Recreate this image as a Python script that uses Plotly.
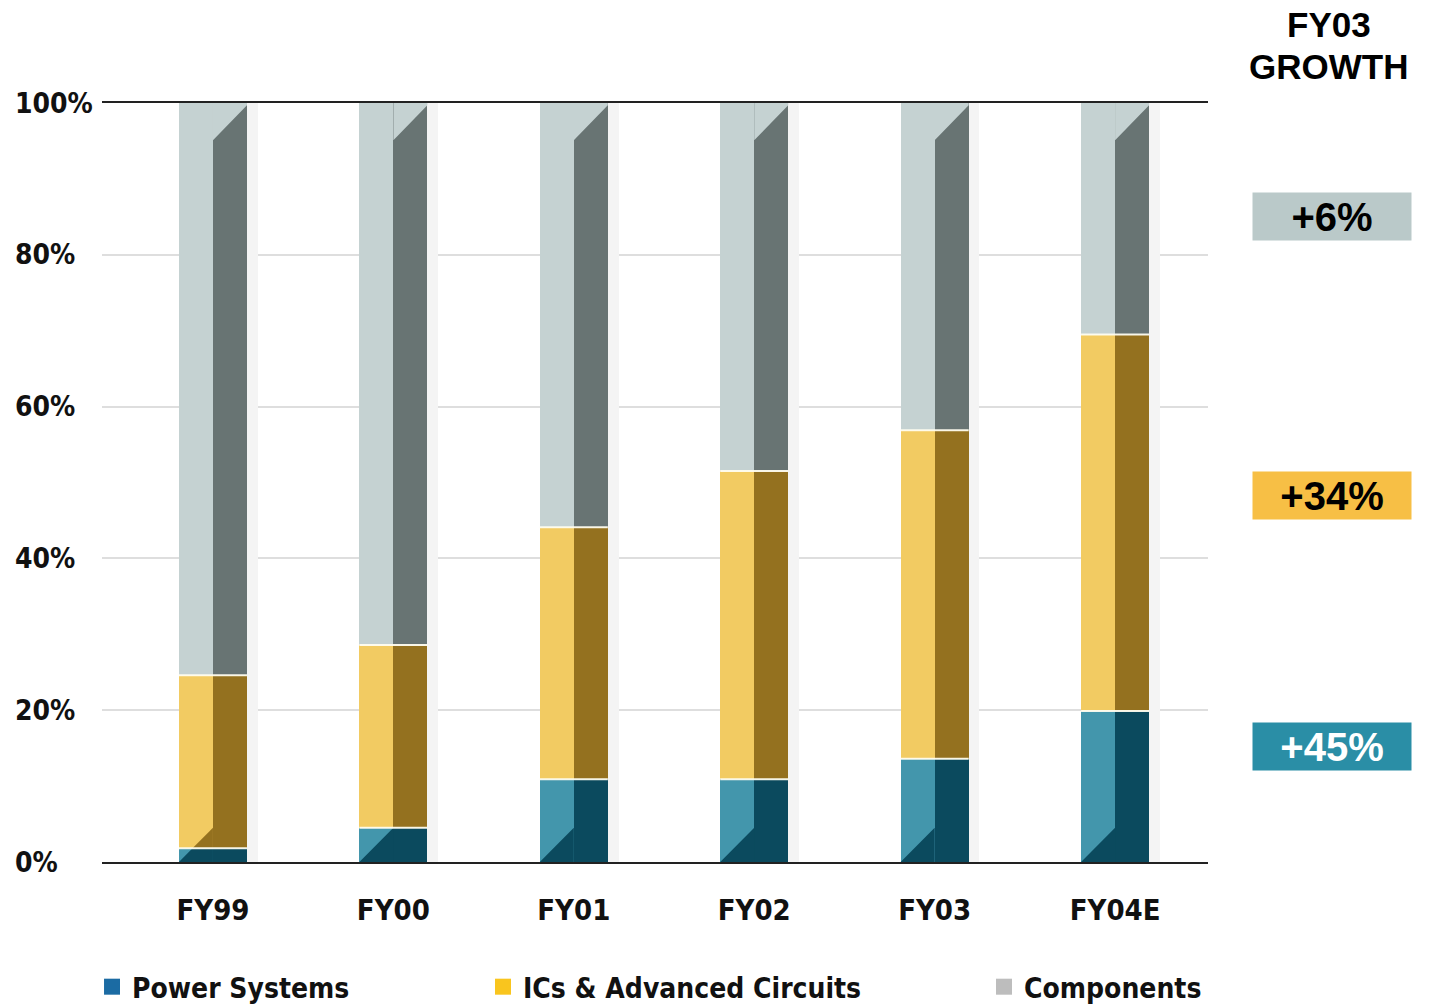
import plotly.graph_objects as go

# ---- data -------------------------------------------------------------
categories = ["FY99", "FY00", "FY01", "FY02", "FY03", "FY04E"]
power_systems = [1.8, 4.5, 10.9, 10.9, 13.6, 19.9]
ics_advanced = [22.8, 24.1, 33.2, 40.6, 43.3, 49.6]
components = [round(100 - p - i, 1) for p, i in zip(power_systems, ics_advanced)]

series_names = ["Power Systems", "ICs & Advanced Circuits", "Components"]
y_tick_vals = [0, 20, 40, 60, 80, 100]
y_tick_text = ["0%", "20%", "40%", "60%", "80%", "100%"]

growth_title = ["FY03", "GROWTH"]
growth_labels = ["+6%", "+34%", "+45%"]      # Components, ICs, Power
growth_levels = [0.8505, 0.4829, 0.1522]     # vertical placement (paper units)

# ---- styling ----------------------------------------------------------
light = {"Power Systems": "#4396AC", "ICs & Advanced Circuits": "#F2CB62", "Components": "#C5D2D2"}
dark = {"Power Systems": "#0B4A5E", "ICs & Advanced Circuits": "#94711F", "Components": "#687473"}
legend_col = {"Power Systems": "#1B6BA3", "ICs & Advanced Circuits": "#F9C51E", "Components": "#BDBDBD"}
box_col = ["#BAC9C9", "#F7BF45", "#2A8EA6"]
box_txt = ["#000000", "#000000", "#FFFFFF"]

COND = "Liberation Sans Narrow, DejaVu Sans Condensed, Arial Narrow, sans-serif"
ARIAL = "Liberation Sans, Arial, sans-serif"

W = 0.377          # bar width (x units)
HW = W / 2
SH = 0.06          # drop-shadow width
BEVEL_TOP = (95.1, 99.7)
BEVEL_BOT = 4.5

x = list(range(len(categories)))
values = {"Power Systems": power_systems,
          "ICs & Advanced Circuits": ics_advanced,
          "Components": components}

fig = go.Figure()

# soft drop shadow on the right of every column
fig.add_trace(go.Bar(x=[i + HW + SH / 2 for i in x], y=[100] * len(x), width=SH,
                     base=0, marker=dict(color="#F4F4F4", line_width=0),
                     showlegend=False, hoverinfo="skip"))

# stacked columns, each drawn as a lit left half and a shaded right half
base = [0.0] * len(x)
for name in series_names:
    vals = values[name]
    fig.add_trace(go.Bar(x=[i - HW / 2 for i in x], y=vals, base=base, width=HW,
                         marker=dict(color=light[name], line_width=0),
                         name=name, showlegend=False))
    fig.add_trace(go.Bar(x=[i + HW / 2 for i in x], y=vals, base=base, width=HW,
                         marker=dict(color=dark[name], line_width=0),
                         name=name, showlegend=False, hoverinfo="skip"))
    base = [b + v for b, v in zip(base, vals)]

# bevel at the top of each column (lit wedge over the shaded half)
tx, ty = [], []
for i in x:
    tx += [i, i + HW, i + HW, i, None]
    ty += [100, 100, BEVEL_TOP[1], BEVEL_TOP[0], None]
fig.add_trace(go.Scatter(x=tx, y=ty, mode="lines", fill="toself",
                         fillcolor=light["Components"], line_width=0,
                         showlegend=False, hoverinfo="skip"))

# bevel at the bottom of each column (shaded wedge over the lit half)
def xl(y):
    return -HW + (y / BEVEL_BOT) * HW

px_, py_, ix_, iy_ = [], [], [], []
for i, p in zip(x, power_systems):
    top = min(p, BEVEL_BOT)
    px_ += [i - HW, i, i, i + xl(top), None]
    py_ += [0, 0, top, top, None]
    if p < BEVEL_BOT:
        ix_ += [i + xl(p), i, i, None]
        iy_ += [p, p, BEVEL_BOT, None]
fig.add_trace(go.Scatter(x=px_, y=py_, mode="lines", fill="toself",
                         fillcolor=dark["Power Systems"], line_width=0,
                         showlegend=False, hoverinfo="skip"))
if ix_:
    fig.add_trace(go.Scatter(x=ix_, y=iy_, mode="lines", fill="toself",
                             fillcolor=dark["ICs & Advanced Circuits"], line_width=0,
                             showlegend=False, hoverinfo="skip"))

# thin pale seams between stacked segments
sx, sy = [], []
for i, p, c in zip(x, power_systems, ics_advanced):
    for lvl in (p, p + c):
        sx += [i - HW, i + HW, None]
        sy += [lvl, lvl, None]
fig.add_trace(go.Scatter(x=sx, y=sy, mode="lines",
                         line=dict(color="rgba(255,253,240,0.95)", width=2),
                         showlegend=False, hoverinfo="skip"))

# legend entries, each in its own legend so they can be spaced freely
legend_ids = ["legend", "legend2", "legend3"]
legend_x = [0.0644, 0.3380, 0.6886]
for name, lid in zip(series_names, legend_ids):
    fig.add_trace(go.Scatter(x=[None], y=[None], mode="markers", name=name,
                             marker=dict(symbol="square", size=17, color=legend_col[name]),
                             legend=lid))

legend_style = dict(orientation="h", xref="container", yref="container",
                    yanchor="middle", y=0.0189, xanchor="left",
                    bgcolor="rgba(0,0,0,0)", borderwidth=0,
                    font=dict(family=COND, size=28, color="#111111", weight="bold"),
                    itemwidth=30)
fig.update_layout(
    legend=dict(x=legend_x[0], **legend_style),
    legend2=dict(x=legend_x[1], **legend_style),
    legend3=dict(x=legend_x[2], **legend_style),
)

# ---- annotations ------------------------------------------------------
annotations = []
for v, t in zip(y_tick_vals, y_tick_text):
    annotations.append(dict(x=-0.0805, y=v, xref="paper", yref="y", text=f"<b>{t}</b>",
                            showarrow=False, xanchor="left", yanchor="middle",
                            font=dict(family=COND, size=28, color="#111111")))

annotations.append(dict(x=1.1094, y=1.1028, xref="paper", yref="paper",
                        text=f"<b>{growth_title[0]}</b>", showarrow=False,
                        xanchor="center", yanchor="middle",
                        font=dict(family=ARIAL, size=35, color="#000000")))
annotations.append(dict(x=1.1094, y=1.048, xref="paper", yref="paper",
                        text=f"<b>{growth_title[1]}</b>", showarrow=False,
                        xanchor="center", yanchor="middle",
                        font=dict(family=ARIAL, size=35, color="#000000")))
for lbl, lvl, bc, tc in zip(growth_labels, growth_levels, box_col, box_txt):
    annotations.append(dict(x=1.1121, y=lvl, xref="paper", yref="paper",
                            text=f"<b>{lbl}</b>", showarrow=False,
                            xanchor="center", yanchor="middle",
                            width=158, height=47, bgcolor=bc, borderpad=0,
                            font=dict(family=ARIAL, size=40, color=tc)))

fig.update_layout(
    width=1429, height=1006, autosize=False,
    margin=dict(l=102, r=221, t=103, b=144, autoexpand=False),
    paper_bgcolor="white", plot_bgcolor="white",
    barmode="overlay", bargap=0,
    annotations=annotations,
    xaxis=dict(range=[-0.615, 5.515], tickvals=x, ticktext=[f"<b>{c}</b>" for c in categories],
               tickfont=dict(family=COND, size=29, color="#111111"),
               ticks="outside", ticklen=21, tickcolor="rgba(0,0,0,0)",
               showline=True, linecolor="#222222", linewidth=2, mirror=True,
               showgrid=False, zeroline=False, fixedrange=True),
    yaxis=dict(range=[0, 100], tickvals=y_tick_vals, showticklabels=False,
               showgrid=True, gridcolor="#DEDEDE", gridwidth=2,
               showline=False, zeroline=False, fixedrange=True),
    hovermode=False,
)

fig.write_html("out.html")
